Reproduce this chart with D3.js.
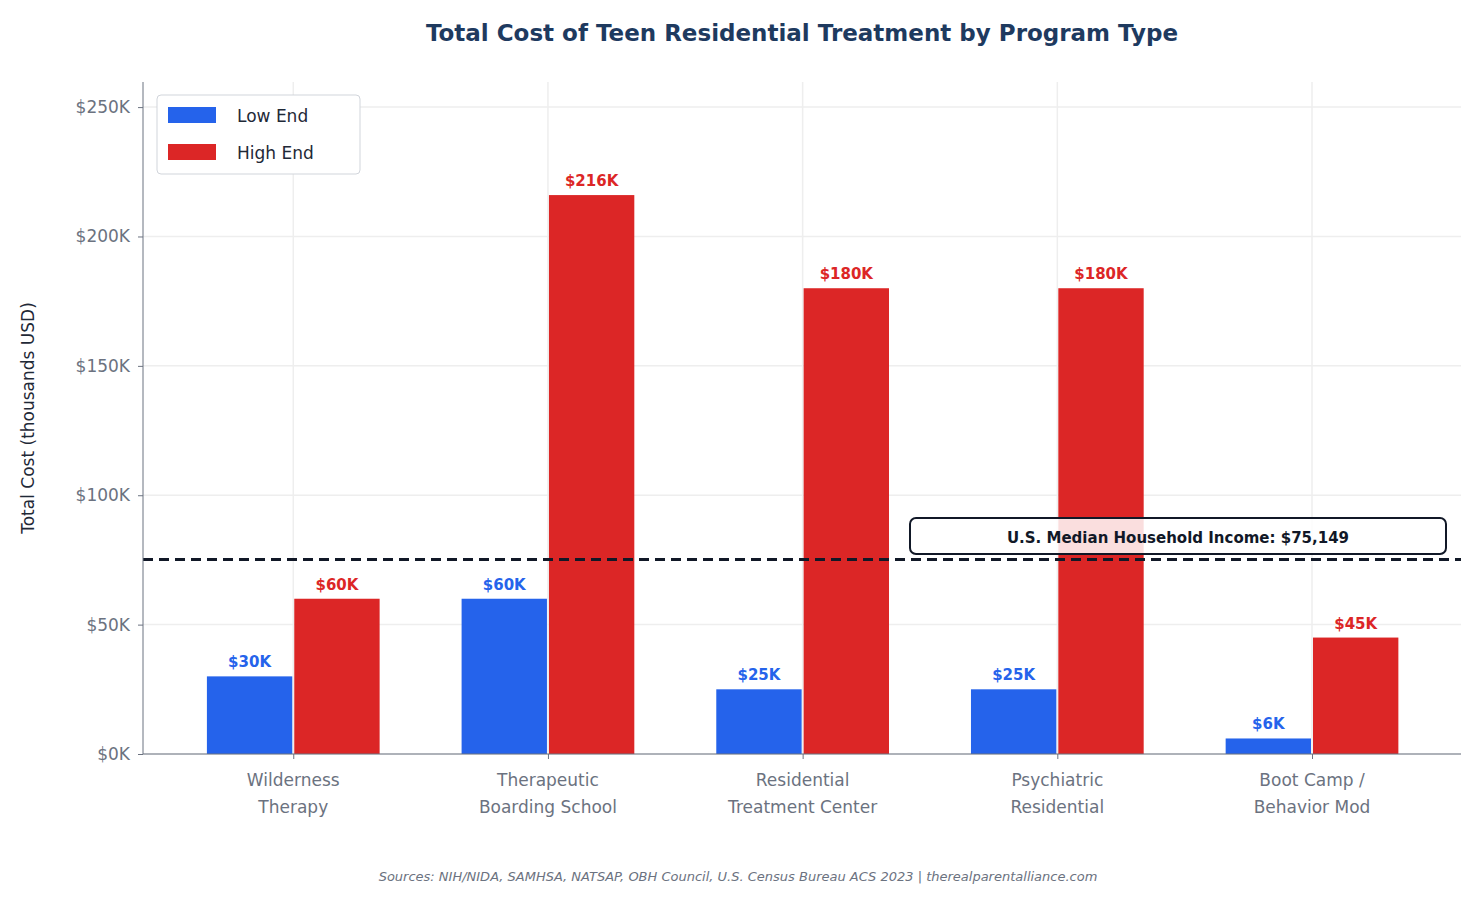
<!DOCTYPE html>
<html><head><meta charset="utf-8">
<script src="https://cdn.jsdelivr.net/npm/d3@7"></script>
<style>body{margin:0;background:#fff}text{font-family:"DejaVu Sans",sans-serif}</style>
</head><body><svg></svg>
<script>
const categories = [["Wilderness","Therapy"],["Therapeutic","Boarding School"],["Residential","Treatment Center"],["Psychiatric","Residential"],["Boot Camp /","Behavior Mod"]]
const lowEnd = [30, 60, 25, 25, 6]
const highEnd = [60, 216, 180, 180, 45]
const yTicks = [0, 50, 100, 150, 200, 250]
const medianIncome = 75.149

const width = 1475, height = 900
const mLeft = 143, mRight = 1461, mTop = 82, mBottom = 754
const blue = "#2563eb", red = "#dc2626", gray = "#6b7280"

const svg = d3.select("svg").attr("width", width).attr("height", height)

const x = d3.scaleLinear().domain([-0.59, 4.585]).range([mLeft, mRight])
const y = d3.scaleLinear().domain([0, 259.7]).range([mBottom, mTop])
const bw = 0.343

// grid
svg.append("g").attr("stroke", "#eeeeee").attr("stroke-width", 1.5)
  .selectAll("line").data(yTicks).join("line")
  .attr("x1", mLeft).attr("x2", mRight).attr("y1", d => y(d)).attr("y2", d => y(d))
svg.append("g").attr("stroke", "#eeeeee").attr("stroke-width", 1.5)
  .selectAll("line").data(categories).join("line")
  .attr("x1", (d, i) => x(i)).attr("x2", (d, i) => x(i)).attr("y1", mTop).attr("y2", mBottom)

// bars
const series = [{vals: lowEnd, color: blue, off: -bw / 2}, {vals: highEnd, color: red, off: bw / 2}]
series.forEach(s => {
  svg.append("g").selectAll("rect").data(s.vals).join("rect")
    .attr("x", (d, i) => x(i + s.off - bw / 2) + 1)
    .attr("width", x(bw) - x(0) - 2)
    .attr("y", d => y(d)).attr("height", d => y(0) - y(d))
    .attr("fill", s.color)
  svg.append("g").selectAll("text").data(s.vals).join("text")
    .attr("x", (d, i) => x(i + s.off)).attr("y", d => y(d) - 9)
    .attr("text-anchor", "middle").attr("font-size", 15).attr("font-weight", "bold")
    .attr("fill", s.color).text(d => "$" + d + "K")
})

// median line
svg.append("line").attr("x1", mLeft).attr("x2", mRight)
  .attr("y1", y(medianIncome)).attr("y2", y(medianIncome))
  .attr("stroke", "#111827").attr("stroke-width", 3).attr("stroke-dasharray", "10,6")
const ann = svg.append("g")
ann.append("rect").attr("x", 910).attr("y", 518).attr("width", 536).attr("height", 36)
  .attr("rx", 6).attr("fill", "rgba(255,255,255,0.85)").attr("stroke", "#111827").attr("stroke-width", 2)
ann.append("text").attr("x", 1178).attr("y", 543).attr("text-anchor", "middle")
  .attr("font-size", 15).attr("font-weight", "bold").attr("fill", "#111827")
  .text("U.S. Median Household Income: $75,149")

// axes
const yAxis = svg.append("g").attr("transform", `translate(${mLeft},0)`)
  .call(d3.axisLeft(y).tickValues(yTicks).tickFormat(d => "$" + d + "K").tickSize(5).tickPadding(8))
yAxis.selectAll("text").attr("font-size", 17).attr("fill", gray)
yAxis.selectAll("line,path").attr("stroke", gray)
yAxis.select("path").attr("d", `M0,${mTop}V${mBottom}`)

const xAxis = svg.append("g").attr("transform", `translate(0,${mBottom})`)
  .call(d3.axisBottom(x).tickValues(d3.range(5)).tickFormat("").tickSize(5))
xAxis.selectAll("line,path").attr("stroke", gray)
xAxis.select("path").attr("d", `M${mLeft},0H${mRight}`)
svg.append("g").selectAll("text").data(categories).join("text")
  .attr("text-anchor", "middle").attr("font-size", 17).attr("fill", gray)
  .each(function (d, i) {
    d3.select(this).selectAll("tspan").data(d).join("tspan")
      .attr("x", x(i)).attr("y", (t, j) => 786 + j * 27).text(t => t)
  })

// labels
svg.append("text").attr("x", 802).attr("y", 41).attr("text-anchor", "middle")
  .attr("font-size", 23).attr("font-weight", "bold").attr("fill", "#1e3a5f")
  .text("Total Cost of Teen Residential Treatment by Program Type")
svg.append("text").attr("transform", "translate(34,418) rotate(-90)").attr("text-anchor", "middle")
  .attr("font-size", 17).attr("fill", "#1f2937").text("Total Cost (thousands USD)")
svg.append("text").attr("x", 738).attr("y", 881).attr("text-anchor", "middle")
  .attr("font-size", 13).attr("font-style", "italic").attr("fill", gray)
  .text("Sources: NIH/NIDA, SAMHSA, NATSAP, OBH Council, U.S. Census Bureau ACS 2023 | therealparentalliance.com")

// legend
const lg = svg.append("g")
lg.append("rect").attr("x", 157).attr("y", 95).attr("width", 203).attr("height", 79).attr("rx", 4)
  .attr("fill", "#fff").attr("stroke", "#d1d5db")
;[["Low End", blue], ["High End", red]].forEach(([t, c], i) => {
  lg.append("rect").attr("x", 168).attr("y", 107 + i * 37).attr("width", 48).attr("height", 16).attr("fill", c)
  lg.append("text").attr("x", 237).attr("y", 122 + i * 37).attr("font-size", 17).attr("fill", "#1f2937").text(t)
})
</script></body></html>
